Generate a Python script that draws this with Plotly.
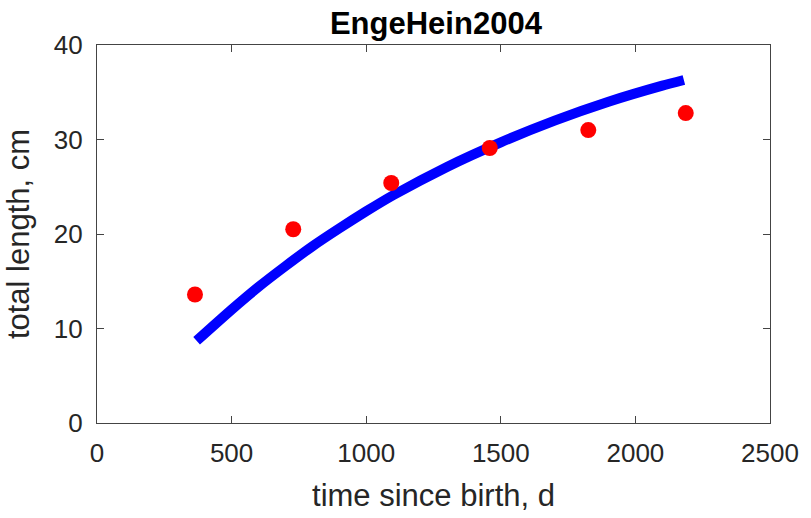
import plotly.graph_objects as go

# observed data (red dots)
age_obs = [364, 729, 1093, 1459, 1825, 2187]
length_obs = [13.6, 20.5, 25.4, 29.1, 31.0, 32.8]

# model curve (blue line)
age_fit = [370, 500, 600, 700, 800, 900, 1000, 1100, 1300, 1500, 1700, 1900, 2100, 2180]
length_fit = [8.7, 12.0, 14.4, 16.6, 18.7, 20.6, 22.4, 24.1, 27.1, 29.7, 32.0, 34.0, 35.7, 36.3]

x_ticks = [0, 500, 1000, 1500, 2000, 2500]
y_ticks = [0, 10, 20, 30, 40]

fig = go.Figure()
fig.add_trace(go.Scatter(x=age_fit, y=length_fit, mode="lines",
                         line=dict(color="rgb(0,0,255)", width=10, shape="spline", smoothing=0.6),
                         showlegend=False))
fig.add_trace(go.Scatter(x=age_obs, y=length_obs, mode="markers",
                         marker=dict(color="rgb(255,0,0)", size=16, line=dict(width=0)),
                         showlegend=False))

axis_common = dict(showgrid=False, zeroline=False, showline=True, linecolor="#444444",
                   linewidth=1.3, mirror="ticks", ticks="inside", ticklen=7,
                   tickcolor="#444444", tickwidth=1.3,
                   tickfont=dict(family="Liberation Sans, Arial", size=26, color="#262626"))

fig.update_layout(
    width=811, height=518,
    margin=dict(l=97, r=36, t=45, b=95),
    paper_bgcolor="white", plot_bgcolor="white",
    title=dict(text="<b>EngeHein2004</b>", x=0.5375, xanchor="center", y=0.955, yanchor="middle",
               font=dict(family="Liberation Sans, Arial", size=31, color="black")),
    xaxis=dict(range=[0, 2500], tickvals=x_ticks, ticklabelstandoff=7,
               title=dict(text="time since birth, d", standoff=16,
                          font=dict(family="Liberation Sans, Arial", size=31, color="#262626")),
               **axis_common),
    yaxis=dict(range=[0, 40], tickvals=y_ticks, ticklabelstandoff=8,
               title=dict(text="total length, cm", standoff=14,
                          font=dict(family="Liberation Sans, Arial", size=31, color="#262626")),
               **axis_common),
)

fig.write_html("out.html")
